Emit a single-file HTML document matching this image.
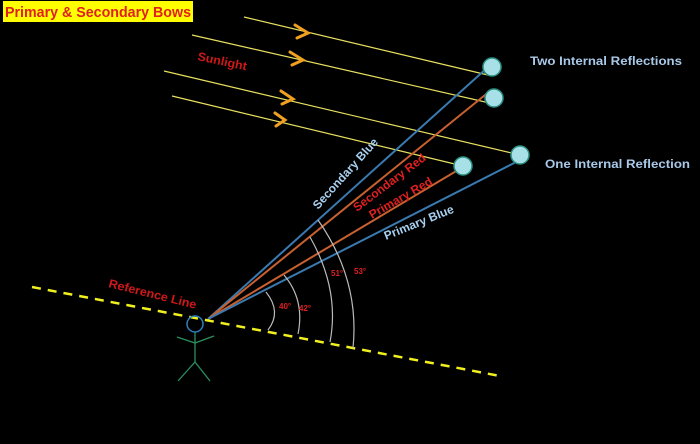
<!DOCTYPE html>
<html><head><style>body{margin:0;background:#000}svg{display:block}</style></head><body>
<svg width="700" height="444" viewBox="0 0 700 444" xmlns="http://www.w3.org/2000/svg" font-family="Liberation Sans, sans-serif" font-weight="bold">
<rect width="700" height="444" fill="#000"/>
<rect x="3" y="1" width="190" height="21" fill="#ffff00"/>
<text x="5" y="17" font-size="15" fill="#e02020" textLength="186" lengthAdjust="spacingAndGlyphs">Primary &amp; Secondary Bows</text>
<g stroke="#e8e060" stroke-width="1.2">
<line x1="244" y1="17" x2="492" y2="76"/>
<line x1="192" y1="35" x2="494" y2="104"/>
<line x1="164" y1="71" x2="520" y2="155"/>
<line x1="172" y1="96" x2="463" y2="166"/>
</g>
<g stroke="#f0a020" stroke-width="3" fill="none" stroke-linecap="round">
<polyline points="295,25 308,33 297,38"/>
<polyline points="290,52 303,60 292,65"/>
<polyline points="281,91 293,99 282,104"/>
<polyline points="275,113 285,120 276,126"/>
</g>
<text x="197" y="60" font-size="12" fill="#d01818" transform="rotate(12 197 60)" textLength="50" lengthAdjust="spacingAndGlyphs">Sunlight</text>
<g stroke-width="2">
<line x1="208" y1="319" x2="487" y2="68" stroke="#3a7ab0"/>
<line x1="208" y1="319" x2="490" y2="91" stroke="#c86030"/>
<line x1="208" y1="319" x2="458" y2="170" stroke="#c86030"/>
<line x1="208" y1="319" x2="520" y2="160" stroke="#3a7ab0"/>
</g>
<g fill="#a8e0e8" stroke="#2a9080" stroke-width="1.5">
<circle cx="492" cy="67" r="9"/><circle cx="494" cy="98" r="9"/>
<circle cx="520" cy="155" r="9"/><circle cx="463" cy="166" r="9"/>
</g>
<text x="530" y="65" font-size="12" fill="#a8c8e8" textLength="152" lengthAdjust="spacingAndGlyphs">Two Internal Reflections</text>
<text x="545" y="168" font-size="12" fill="#a8c8e8" textLength="145" lengthAdjust="spacingAndGlyphs">One Internal Reflection</text>
<text x="0" y="0" font-size="12" fill="#a8d0f0" transform="translate(318,210) rotate(-48)">Secondary Blue</text>
<text x="0" y="0" font-size="12" fill="#e02020" transform="translate(357,212) rotate(-37)">Secondary Red</text>
<text x="0" y="0" font-size="12" fill="#e02020" transform="translate(372,219) rotate(-30)">Primary Red</text>
<text x="0" y="0" font-size="12" fill="#a8d0f0" transform="translate(386,240) rotate(-22)">Primary Blue</text>
<line x1="32" y1="287" x2="500" y2="376" stroke="#f0f020" stroke-width="2.5" stroke-dasharray="9,7"/>
<text x="0" y="0" font-size="12" fill="#d01818" transform="translate(108,287) rotate(14)" textLength="90" lengthAdjust="spacingAndGlyphs">Reference Line</text>
<g stroke="#bbb" stroke-width="1.2" fill="none">
<path d="M266,292 Q282,312 268,330"/>
<path d="M284,275 Q305,300 298,334"/>
<path d="M310,237 Q340,290 330,342"/>
<path d="M318,220 Q360,280 353,348"/>
</g>
<g font-size="8" fill="#e02020">
<text x="279" y="309">40°</text><text x="299" y="311">42°</text>
<text x="331" y="276">51°</text><text x="354" y="274">53°</text>
</g>
<circle cx="195" cy="324" r="8" fill="none" stroke="#2a80c0" stroke-width="1.5"/>
<g stroke="#2a9060" stroke-width="1.3">
<line x1="195" y1="332" x2="195" y2="362"/>
<line x1="177" y1="337" x2="195" y2="343"/>
<line x1="195" y1="343" x2="214" y2="336"/>
<line x1="195" y1="362" x2="178" y2="381"/>
<line x1="195" y1="362" x2="210" y2="381"/>
</g>
</svg>
</body></html>
